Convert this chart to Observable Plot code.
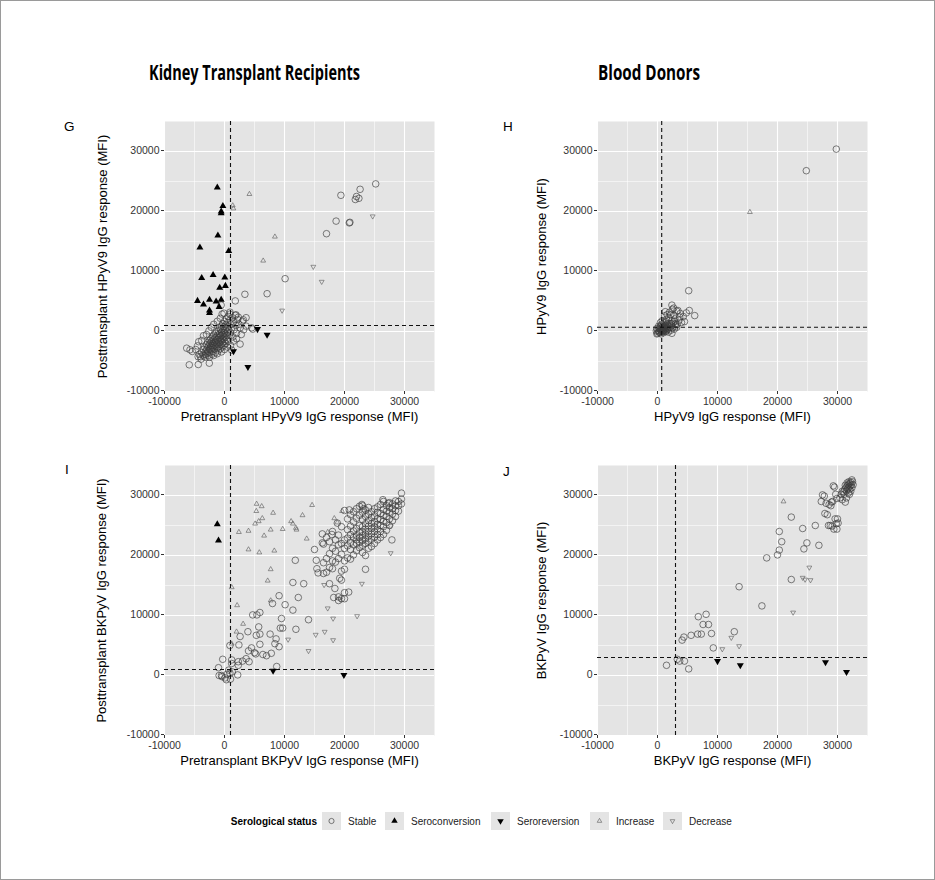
<!DOCTYPE html>
<html><head><meta charset="utf-8">
<script src="https://cdn.jsdelivr.net/npm/d3@7"></script>
<script src="https://cdn.jsdelivr.net/npm/@observablehq/plot@0.6"></script>
<style>
body{margin:0;background:#fff;}
#fig{position:relative;width:935px;height:880px;font-family:"Liberation Sans",Arial,sans-serif;background:#fff;}
#fig > svg.p{position:absolute;}
</style></head><body><div id="fig"></div>
<script>
// ---------------- axis ticks ----------------
const majorTicks = [-10000, 0, 10000, 20000, 30000];
const minorTicks = [-5000, 5000, 15000, 25000];
const statusLabels = ["Stable", "Seroconversion", "Seroreversion", "Increase", "Decrease"];

// ---------------- G: Kidney transplant recipients, HPyV9 ----------------
const gStable = [
[25200,24600],[22600,23700],[19400,22700],[21800,22000],[22400,22200],[22000,22500],[18600,18400],[20800,18100],[20900,18200],[17000,16300],
[10100,8800],[7100,6300],[3400,6200],[1800,5100],[-550,4400],[3600,2300],[4700,400],[-6300,-2780],[-5750,-3050],[-5370,-3330],
[-5870,-5550],[-4370,-5500],[-2530,-5280],[-80,3050],[920,3220],[1920,2780],[2300,2390],[3140,1950],[4530,610],
[-4200,-3800],[-4000,-4200],[-3800,-3500],[-3600,-3900],[-3500,-3000],[-3400,-4100],[-3300,-2600],[-3200,-3400],[-3100,-3800],[-3000,-2200],
[-3000,-3000],[-2900,-3600],[-2800,-1800],[-2800,-2600],[-2700,-3200],[-2700,-4000],[-2600,-2300],[-2500,-1500],[-2500,-2900],[-2400,-3500],
[-2400,-2000],[-2300,-2600],[-2300,-1200],[-2200,-3000],[-2200,-1700],[-2100,-2300],[-2100,-3800],[-2000,-900],[-2000,-2000],[-2000,-2700],
[-1900,-1400],[-1900,-3300],[-1800,-2400],[-1800,-600],[-1700,-1800],[-1700,-2900],[-1600,-1100],[-1600,-2200],[-1500,-300],[-1500,-1600],
[-1500,-3500],[-1400,-2500],[-1400,-900],[-1300,-1900],[-1300,0],[-1200,-1300],[-1200,-2800],[-1100,-600],[-1100,-2200],[-1000,-1600],
[-1000,200],[-1000,-3100],[-900,-1000],[-900,-2500],[-800,-400],[-800,-1900],[-800,600],[-700,-1300],[-700,-2900],[-600,-700],
[-600,-2200],[-600,300],[-500,-1600],[-500,900],[-500,-100],[-400,-1100],[-400,-2600],[-300,-500],[-300,1300],[-300,-1900],
[-200,200],[-200,-1300],[-100,-800],[-100,800],[-100,-2300],[0,-200],[0,1700],[0,-1600],[100,400],[100,-1000],
[200,1100],[200,-400],[200,-2000],[300,2100],[300,-1300],[400,600],[400,-700],[500,1500],[500,-100],[600,2500],
[600,-1600],[700,900],[700,300],[800,-600],[900,1900],[900,2900],[1000,-200],[1100,1200],[1200,600],[1300,2300],
[1400,-900],[1500,1600],[1600,300],[1800,2700],[1900,1000],[2000,-300],[2200,2000],[2400,1200],[2600,600],[2800,-500],
[3000,1700],[3200,300],[3600,900],[-4800,-3000],[-4500,-2400],[-4300,-1700],[-3800,-1500],[-3500,-700],[-3000,-500],[-2600,100],
[-2200,700],[-1800,1200],[-1200,1700],[-700,2200],[-400,2900],[-4400,-4200],[-3900,-4600],[-3200,-4300],[-2500,-4300],[-1800,-4000],
[-1200,-3700],[-500,-3400],[0,-3000],[500,-2600],[1000,-2300],[1500,-1600],[2000,-1200],[2600,-2100],[1200,-3100]
];
const gSeroconversion = [
[-1200,24000],[-270,20900],[-550,20000],[-550,19700],[-1100,16000],[-4100,14000],[700,13400],[-3800,8900],[-1900,9400],[50,9000],
[-800,7300],[150,7600],[-4500,5100],[-3500,4500],[-2500,5300],[-1400,5000],[-550,5300],[-900,4100],[-2500,3500],[-2500,3100]
];
const gSeroreversion = [[5500,400],[7100,-550],[1500,-3300],[3900,-5900]];
const gIncrease = [[4150,22900],[1370,21000],[1480,20500],[8400,15800],[6450,11800]];
const gDecrease = [[24700,19200],[14800,10800],[16200,8300],[9600,3500]];
const gCutoff = 1000;

// ---------------- H: Blood donors, HPyV9 ----------------
const hStable = [
[29800,30400],[24800,26800],[5200,6800],[2400,4400],[5300,3500],[6200,2650],[1300,3300],[2700,3900],[3400,3500],[4800,3100],
[2200,2800],[3700,2400],[4500,1650],[2900,2100],[3000,1300],[2300,1300],
[0,-300],[100,200],[200,-100],[300,400],[300,0],[400,700],[400,-200],[500,300],[500,900],[600,100],
[600,500],[700,-100],[700,1200],[800,300],[800,700],[900,0],[900,1000],[1000,500],[1000,200],[1100,800],
[1100,1400],[1200,300],[1200,600],[1300,1000],[1300,100],[1400,500],[1400,1600],[1500,800],[1600,300],[1600,1200],
[1700,600],[1800,900],[1900,400],[2000,1300],[2100,700],[2200,200],[2300,1000],[2500,600],[2600,1400],[2800,400],
[3000,900],[3200,700],[-200,100],[-100,500],[200,900],[500,1500],[800,1800],[1500,2000],[1900,2300],[2400,1800],
[2800,1700],[3300,1200],[3600,1900],[4000,1500],[4300,2500],[1200,2600],[2000,3200],[1600,2800],[2500,3700],[3200,3400],
[3800,3000],[2700,2700],[600,-400],[1000,-200],[1400,0],[1800,-100],[2400,-300],[-100,-400]
];
const hSeroconversion = [];
const hSeroreversion = [];
const hIncrease = [[15400,19900]];
const hDecrease = [];
const hCutoff = 700;

// ---------------- I: Kidney transplant recipients, BKPyV ----------------
const iStable = [
[15000,21000],[15300,19200],[15400,17800],[15600,17100],[11800,19200],[16300,23600],[16300,22100],[17900,23500],[18800,25400],[20800,27600],
[22900,28500],[23200,27800],[26400,29300],[27300,28700],[27900,22600],[23500,17700],
[11400,15500],[13200,15300],[12300,13000],[9100,13300],[8000,12000],[10100,11800],[11400,10900],[11900,7700],[14000,9300],[9500,9500],
[9300,7900],[9700,7900],[7600,6900],[5900,6900],[5300,6700],[5700,8100],[4700,10100],[5400,10100],[5900,10500],[3900,7300],
[2600,6500],[900,5000],[2400,5100],[5900,5200],[4500,4600],[5000,3800],[4000,4100],[8600,6100],[8400,5300],[9100,4800],
[7800,3700],[6400,3500],[7000,3300],[5200,3600],[3600,2800],[3000,2400],[2300,2300],[4100,2300],[8700,1500],[1200,2600],
[1200,2000],[2300,1700],[-300,2700],[-1000,1300],[-900,0],[-400,-200],[100,-400],[400,200],[700,900],[900,400],
[1300,600],[1000,-600],[2200,100],[300,-700],[-500,0],
[18400,14500],[19000,13100],[20000,12800],[20700,13900],[18200,13000],[19200,16200],[19500,15900],
[16500,17000],[16500,18800],[16500,21900],[17000,17200],[17000,19500],[17000,23000],[17500,15300],[17500,18000],[17500,20300],[17500,22300],
[18000,17800],[18000,19100],[18000,21200],[18000,24000],[18500,18900],[18500,20700],[18500,22600],[19000,12500],[19000,19500],[19000,21800],
[19000,23400],[19500,12800],[19500,17400],[19500,20200],[19500,22000],[19500,24800],[20000,13800],[20000,17700],[20000,19100],[20000,21200],
[20000,22600],[20000,27500],[20500,19600],[20500,21600],[20500,22900],[20500,24300],[20500,26100],[21000,19400],[21000,21000],[21000,22200],
[21000,23500],[21000,24900],[21000,26800],[21500,20100],[21500,21800],[21500,23000],[21500,24100],[21500,25600],[21500,27300],[22000,20800],
[22000,22000],[22000,22600],[22000,23300],[22000,24500],[22000,26200],[22000,27800],[22500,21300],[22500,22200],[22500,23000],[22500,23800],
[22500,25000],[22500,26700],[22500,28200],[23000,20500],[23000,21700],[23000,22500],[23000,23300],[23000,24000],[23000,24800],[23000,26000],
[23000,27200],[23000,28300],[23500,20000],[23500,22000],[23500,22800],[23500,23600],[23500,24400],[23500,25300],[23500,26500],[23500,27600],
[24000,21200],[24000,22400],[24000,23200],[24000,24000],[24000,24900],[24000,25800],[24000,26900],[24000,28000],[24500,21500],[24500,22700],
[24500,23600],[24500,24500],[24500,25300],[24500,26300],[24500,27300],[25000,22000],[25000,23100],[25000,24000],[25000,24800],[25000,25600],
[25000,26600],[25000,27800],[25500,22600],[25500,23500],[25500,24400],[25500,25200],[25500,26100],[25500,27200],[25500,28100],[26000,23000],
[26000,24000],[26000,25000],[26000,26000],[26000,27000],[26000,28500],[26500,23500],[26500,24800],[26500,25700],[26500,26700],[26500,27700],
[26500,29000],[27000,24200],[27000,25500],[27000,26500],[27000,27400],[27000,28300],[27500,25000],[27500,26100],[27500,27200],[27500,28000],
[27500,28800],[28000,25800],[28000,26900],[28000,27800],[28000,28600],[28500,26500],[28500,27500],[28500,28300],[28500,29100],[29000,27400],
[29000,28300],[29000,29000],[29500,28600],[29500,29400],[29500,30400]
];
const iSeroconversion = [[-1200,25200],[-1000,22500]];
const iSeroreversion = [[8100,800],[19900,100]];
const iIncrease = [
[5350,28600],[6200,28200],[5300,27400],[8100,27100],[14600,28400],[13000,26700],[5100,25300],[5700,25700],[6300,26200],[11100,25700],
[11400,25300],[11900,24600],[12000,24300],[2400,23900],[4000,24100],[7700,24300],[9700,24400],[6600,23300],[13700,22800],[4000,21000],
[5800,20500],[8300,20800],[7700,17700],[7200,15800],[1200,14700],[2100,11700],[7700,12500],[3100,8600],[2000,7300],[1200,5300],
[18300,26200],[19600,27400],[18800,25500],[17200,23900]
];
const iDecrease = [
[27700,24900],[27700,20400],[22900,15300],[16600,15100],[17200,11200],[22100,9900],[18100,9500],[15200,6800],[16700,7300],[18100,5900],
[10600,6000],[14000,4100],[19300,12700]
];
const iCutoff = 1000;

// ---------------- J: Blood donors, BKPyV ----------------
const jStable = [
[1500,1700],[6800,9800],[8100,10200],[8500,8500],[7600,8500],[7300,6900],[6700,6900],[5600,6700],[4400,6400],[4100,5900],
[9000,7000],[9300,4600],[12800,7300],[4500,2400],[5200,1100],[3300,2700],[3700,2400],[13600,14800],[17400,11600],[18200,19600],
[20000,20100],[20300,20900],[20300,24000],[20700,22300],[22300,26400],[24200,24500],[24400,21100],[24900,22100],[26300,25000],[26900,21700],
[22300,16000],[27500,30100],[27300,29000],[27900,27000],[28100,28700],[28600,28500],[29000,28900],[29300,31600],[29700,30200],[28500,25000],
[28800,25000],[29400,24400],[29600,26100],[29800,25300],[29200,29000],[29500,31400],[27800,29900],[28900,28300],[29900,29500],[31300,28900],
[32000,30200],[28300,26800],[29100,24900],[30000,26100],[30100,25400],[29900,24400],
[31000,30600],[31200,31000],[31400,31300],[31500,30800],[31600,31600],[31700,31100],[31800,31800],[31900,31400],[32000,32000],[32000,31000],
[32100,31600],[32200,32200],[32300,31800],[32400,31300],[32500,32300],[31300,31700],[31600,32100],[31900,32300],[32200,30700],[31100,30200],
[30800,30700],[30600,30200],[31800,30400],[32400,32600],[32600,31800],[30400,29600],[30800,29300],[31500,29600]
];
const jSeroconversion = [];
const jSeroreversion = [[10000,2400],[13800,1700],[28000,2200],[31500,600]];
const jIncrease = [[21000,29000]];
const jDecrease = [[25300,18000],[24200,16300],[24600,16000],[25500,15900],[22600,10500],[12300,6300],[10800,4400],[13600,4900]];
const jCutoff = 3000;

// ---------------- rendering ----------------
const BG = "#e4e4e4";
const FONT = "'Liberation Sans', Arial, sans-serif";
const fmt = d => String(d);
const sqrt3 = Math.sqrt(3);
const triangleDown = {
  draw(context, size) {
    const y = -Math.sqrt(size / (sqrt3 * 3));
    context.moveTo(0, -y * 2);
    context.lineTo(-sqrt3 * y, y);
    context.lineTo(sqrt3 * y, y);
    context.closePath();
  }
};
const styles = {
  Stable: {symbol: "circle", r: 3.3, fill: "none", stroke: "#3a3a3a", strokeWidth: 0.65},
  Seroconversion: {symbol: "triangle", r: 2.6, fill: "#000", stroke: "none"},
  Seroreversion: {symbol: triangleDown, r: 2.6, fill: "#000", stroke: "none"},
  Increase: {symbol: "triangle", r: 1.8, fill: "none", stroke: "#555", strokeWidth: 0.6},
  Decrease: {symbol: triangleDown, r: 1.8, fill: "none", stroke: "#555", strokeWidth: 0.6}
};

const fig = document.getElementById("fig");

function makePanel(cfg) {
  const mL = 130, mR = 12, mT = 21, mB = 46;
  const marks = [
    Plot.frame({fill: BG}),
    Plot.ruleX(minorTicks, {stroke: "#fff", strokeWidth: 0.55}),
    Plot.ruleY(minorTicks, {stroke: "#fff", strokeWidth: 0.55}),
    Plot.ruleX(majorTicks, {stroke: "#fff", strokeWidth: 1.1}),
    Plot.ruleY(majorTicks, {stroke: "#fff", strokeWidth: 1.1}),
    Plot.axisX(majorTicks, {tickSize: 3, tickPadding: 3, tickFormat: fmt, label: null, fill: "#333", stroke: "#333", fontSize: 10.5}),
    Plot.axisY(majorTicks, {tickSize: 3, tickPadding: 2, tickFormat: fmt, label: null, fill: "#333", stroke: "#333", fontSize: 10.5, dy: -1})
  ];
  statusLabels.forEach((s, k) => {
    const arr = cfg.series[k];
    if (arr.length) marks.push(Plot.dot(arr, {x: d => d[0], y: d => d[1], ...styles[s]}));
  });
  marks.push(
    Plot.ruleX([cfg.cut], {stroke: "#111", strokeWidth: 1.1, strokeDasharray: "4,3"}),
    Plot.ruleY([cfg.cut], {stroke: "#111", strokeWidth: 1.1, strokeDasharray: "4,3"}),
    Plot.text([cfg.xLabel], {text: d => d, frameAnchor: "bottom", lineAnchor: "middle", dy: 25, fontSize: 13, fill: "#000"}),
    Plot.text([cfg.yLabel], {text: d => d, frameAnchor: "left", textAnchor: "middle", lineAnchor: "middle", dx: cfg.yOff, rotate: -90, fontSize: 13, fill: "#000"})
  );
  const svg = Plot.plot({
    width: 270 + mL + mR, height: 270 + mT + mB,
    marginLeft: mL, marginRight: mR, marginTop: mT, marginBottom: mB,
    x: {domain: [-10000, 35000], axis: null},
    y: {domain: [-10000, 35000], axis: null},
    style: {fontFamily: FONT, background: "transparent", overflow: "visible"},
    marks
  });
  svg.classList.add("p");
  svg.style.left = (cfg.left - mL) + "px";
  svg.style.top = (cfg.top - mT) + "px";
  fig.appendChild(svg);
}

makePanel({series: [gStable, gSeroconversion, gSeroreversion, gIncrease, gDecrease], cut: gCutoff,
  xLabel: "Pretransplant HPyV9 IgG response (MFI)", yLabel: "Posttransplant HPyV9 IgG response (MFI)",
  left: 164, top: 121, yOff: -62});
makePanel({series: [hStable, hSeroconversion, hSeroreversion, hIncrease, hDecrease], cut: hCutoff,
  xLabel: "HPyV9 IgG response (MFI)", yLabel: "HPyV9 IgG response (MFI)",
  left: 597, top: 121, yOff: -56});
makePanel({series: [iStable, iSeroconversion, iSeroreversion, iIncrease, iDecrease], cut: iCutoff,
  xLabel: "Pretransplant BKPyV IgG response (MFI)", yLabel: "Posttransplant BKPyV IgG response (MFI)",
  left: 164, top: 465, yOff: -63});
makePanel({series: [jStable, jSeroconversion, jSeroreversion, jIncrease, jDecrease], cut: jCutoff,
  xLabel: "BKPyV IgG response (MFI)", yLabel: "BKPyV IgG response (MFI)",
  left: 597, top: 465, yOff: -56});

// ---------------- overlay: frame, titles, panel letters, legend ----------------
const ov = d3.select(fig).append("svg").attr("width", 935).attr("height", 880)
  .style("position", "absolute").style("left", "0px").style("top", "0px").style("pointer-events", "none");
ov.append("rect").attr("x", 0.5).attr("y", 0.5).attr("width", 934).attr("height", 879)
  .attr("fill", "none").attr("stroke", "#9a9a9a");
const titleFont = "'Open Sans', Lato, sans-serif";
ov.append("text").attr("x", 149).attr("y", 80).attr("textLength", 211).attr("lengthAdjust", "spacingAndGlyphs")
  .style("font-family", titleFont).style("font-weight", "bold").style("font-size", "21px").text("Kidney Transplant Recipients");
ov.append("text").attr("x", 598).attr("y", 80).attr("textLength", 102).attr("lengthAdjust", "spacingAndGlyphs")
  .style("font-family", titleFont).style("font-weight", "bold").style("font-size", "21px").text("Blood Donors");
[["G", 64, 131], ["H", 503, 131], ["I", 65, 474], ["J", 503, 476]].forEach(([t, x, y]) =>
  ov.append("text").attr("x", x).attr("y", y).style("font-family", FONT).style("font-size", "13.5px").text(t));

const legY = 821;
ov.append("text").attr("x", 317).attr("y", legY + 3.5).attr("text-anchor", "end").style("font-family", FONT).style("font-weight", "bold")
  .style("font-size", "10px").text("Serological status");
const keyX = [322, 385, 491, 590, 663];
const sym = {Stable: d3.symbolCircle, Seroconversion: d3.symbolTriangle, Seroreversion: triangleDown, Increase: d3.symbolTriangle, Decrease: triangleDown};
const legR = {Stable: 2.6, Seroconversion: 2.4, Seroreversion: 2.4, Increase: 1.7, Decrease: 1.7};
statusLabels.forEach((s, k) => {
  const x = keyX[k];
  ov.append("rect").attr("x", x).attr("y", legY - 9).attr("width", 19).attr("height", 18).attr("fill", BG);
  const st = styles[s];
  ov.append("path").attr("transform", `translate(${x + 9.5},${legY})`)
    .attr("d", d3.symbol(sym[s], Math.PI * legR[s] * legR[s])())
    .attr("fill", st.fill).attr("stroke", st.stroke).attr("stroke-width", st.strokeWidth || 0);
  ov.append("text").attr("x", x + 26).attr("y", legY + 3.5).style("font-family", FONT)
    .style("font-size", "10px").attr("fill", "#222").text(s);
});
</script>
</body></html>
